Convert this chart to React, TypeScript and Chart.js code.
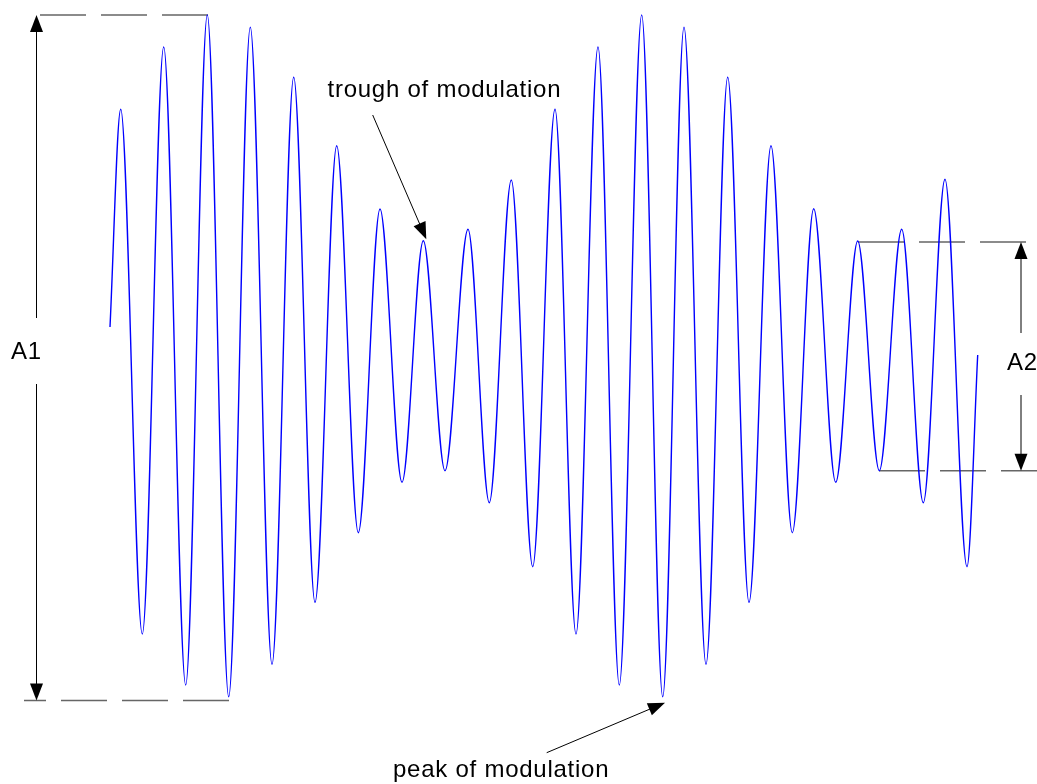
import React, { useEffect, useRef } from "react";
import { Chart, registerables } from "chart.js";

Chart.register(...registerables);

// Waveform extremes (time units, amplitude units)
const waveTimes = [
  110, 120.7, 142.3, 163.7, 185.7, 207.3, 228.7, 250.3, 272, 293.7, 315,
  336.7, 358.3, 380, 402, 423.3, 445, 468, 489.3, 511.3, 532.7, 555, 576,
  598, 619.3, 641.7, 662.7, 684, 706, 727.7, 749, 771, 792.3, 813.7, 835.7,
  857.7, 879.3, 901.7, 923.3, 945, 967, 977.7,
];
const waveValues = [
  29, 246.7, -278, 309, -329, 341, -340.7, 328.7, -308.3, 278.7, -246.3,
  210.3, -176.7, 147, -126.3, 115.3, -114.7, 126.7, -146.7, 176, -210.7,
  246.7, -278, 309, -329, 341, -340.7, 328.7, -308.3, 278.7, -246.3, 210.3,
  -176.7, 147.3, -126.3, 115, -114.7, 126.7, -146.7, 176.7, -210.7, 1,
];

// Axis ranges
const timeRange = [0, 1037];
const ampRange = [-428, 356];

// Measurement levels
const a1Levels = { top: 341, bottom: -344.5 };
const a2Levels = { top: 114, bottom: -114.7 };

// Reference dashed lines: [x0, y0, x1, y1] in data units
const dashedLines = [
  [40, a1Levels.top, 208, a1Levels.top],
  [229, a1Levels.bottom, 24, a1Levels.bottom],
  [858, a2Levels.top, 1027, a2Levels.top],
  [879, a2Levels.bottom, 1037, a2Levels.bottom],
];

// Dimension arrows
const dimA1 = { label: "A1", x: 36.5, top: a1Levels.top, bottom: a1Levels.bottom, gapTop: 38, gapBottom: -28, labelX: 11, labelY: 4 };
const dimA2 = { label: "A2", x: 1021, top: a2Levels.top, bottom: a2Levels.bottom, gapTop: 23, gapBottom: -39, labelX: 1007, labelY: -7 };

// Callouts: text, text anchor, arrow from -> to
const callouts = [
  { text: "trough of modulation", tx: 327.5, ty: 259, from: [372.7, 241], to: [426.3, 116.7] },
  { text: "peak of modulation", tx: 393, ty: -421, from: [546.7, -396.7], to: [665, -346.7] },
];

const FONT = '24px "Liberation Sans", Arial, sans-serif';

function drawArrowHead(ctx: CanvasRenderingContext2D, fx: number, fy: number, tx: number, ty: number) {
  const len = 17;
  const hw = 6.5;
  const ang = Math.atan2(ty - fy, tx - fx);
  const bx = tx - len * Math.cos(ang);
  const by = ty - len * Math.sin(ang);
  const nx = -Math.sin(ang);
  const ny = Math.cos(ang);
  ctx.beginPath();
  ctx.moveTo(tx, ty);
  ctx.lineTo(bx + nx * hw, by + ny * hw);
  ctx.lineTo(bx - nx * hw, by - ny * hw);
  ctx.closePath();
  ctx.fill();
}

const annotationPlugin = {
  id: "amAnnotations",
  beforeDatasetsDraw(chart: any) {
    const { ctx, scales } = chart;
    const xs = scales.x;
    const ys = scales.y;
    ctx.save();
    ctx.strokeStyle = "#666666";
    ctx.lineWidth = 1.4;
    ctx.setLineDash([46, 15]);
    for (const [x0, y0, x1, y1] of dashedLines) {
      ctx.beginPath();
      ctx.moveTo(xs.getPixelForValue(x0), ys.getPixelForValue(y0));
      ctx.lineTo(xs.getPixelForValue(x1), ys.getPixelForValue(y1));
      ctx.stroke();
    }
    ctx.restore();
  },
  afterDatasetsDraw(chart: any) {
    const { ctx, scales } = chart;
    const xs = scales.x;
    const ys = scales.y;
    ctx.save();
    ctx.strokeStyle = "#000";
    ctx.fillStyle = "#000";
    ctx.lineWidth = 1;
    ctx.font = FONT;
    try { (ctx as any).letterSpacing = "0.75px"; } catch (e) {}

    for (const d of [dimA1, dimA2]) {
      const px = xs.getPixelForValue(d.x);
      const pTop = ys.getPixelForValue(d.top);
      const pBot = ys.getPixelForValue(d.bottom);
      const gT = ys.getPixelForValue(d.gapTop);
      const gB = ys.getPixelForValue(d.gapBottom);
      ctx.beginPath();
      ctx.moveTo(px, pTop + 10);
      ctx.lineTo(px, gT);
      ctx.moveTo(px, gB);
      ctx.lineTo(px, pBot - 10);
      ctx.stroke();
      drawArrowHead(ctx, px, gT, px, pTop);
      drawArrowHead(ctx, px, gB, px, pBot);
      ctx.textBaseline = "middle";
      ctx.textAlign = "left";
      ctx.fillText(d.label, xs.getPixelForValue(d.labelX), ys.getPixelForValue(d.labelY));
    }

    for (const c of callouts) {
      const fx = xs.getPixelForValue(c.from[0]);
      const fy = ys.getPixelForValue(c.from[1]);
      const tx = xs.getPixelForValue(c.to[0]);
      const ty = ys.getPixelForValue(c.to[1]);
      ctx.beginPath();
      ctx.moveTo(fx, fy);
      const ang = Math.atan2(ty - fy, tx - fx);
      ctx.lineTo(tx - 10 * Math.cos(ang), ty - 10 * Math.sin(ang));
      ctx.stroke();
      drawArrowHead(ctx, fx, fy, tx, ty);
      ctx.textBaseline = "alphabetic";
      ctx.textAlign = "left";
      ctx.fillText(c.text, xs.getPixelForValue(c.tx), ys.getPixelForValue(c.ty));
    }
    ctx.restore();
  },
};

export default function App() {
  const canvasRef = useRef<HTMLCanvasElement | null>(null);

  useEffect(() => {
    const canvas = canvasRef.current;
    if (!canvas) return;
    const points = waveTimes.map((t, i) => ({ x: t, y: waveValues[i] }));
    const chart = new Chart(canvas, {
      type: "line",
      data: {
        datasets: [
          {
            data: points,
            borderColor: "#0000ff",
            borderWidth: 1.4,
            pointRadius: 0,
            fill: false,
            cubicInterpolationMode: "monotone",
          },
        ],
      },
      options: {
        responsive: false,
        maintainAspectRatio: false,
        animation: false,
        devicePixelRatio: 1,
        events: [],
        layout: { padding: 0 },
        plugins: { legend: { display: false }, tooltip: { enabled: false } },
        scales: {
          x: { type: "linear", min: timeRange[0], max: timeRange[1], display: false },
          y: { type: "linear", min: ampRange[0], max: ampRange[1], display: false },
        },
      },
      plugins: [annotationPlugin],
    });
    return () => chart.destroy();
  }, []);

  return (
    <div style={{ position: "absolute", left: 0, top: 0, width: 1037, height: 784, background: "#fff" }}>
      <canvas ref={canvasRef} width={1037} height={784} style={{ display: "block" }} />
    </div>
  );
}
